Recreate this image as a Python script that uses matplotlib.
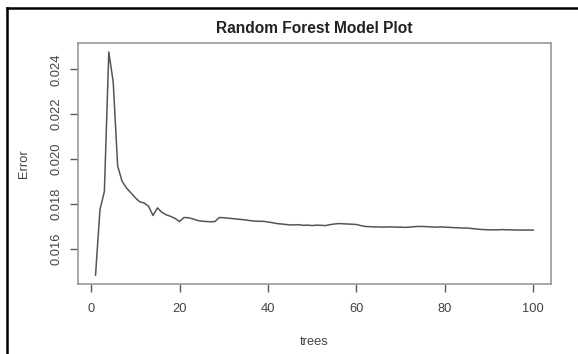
import matplotlib
matplotlib.use('Agg')
import matplotlib.pyplot as plt
from matplotlib.lines import Line2D

trees = list(range(1, 101))
error = [0.01482, 0.01774, 0.01855, 0.02478, 0.02343, 0.01969, 0.01901, 0.01871, 0.01849, 0.01827,
         0.01809, 0.01804, 0.01789, 0.01748, 0.01782, 0.01762, 0.01751, 0.01744, 0.01735, 0.01721,
         0.01739, 0.01738, 0.01733, 0.01726, 0.01723, 0.01721, 0.01720, 0.01721, 0.01739, 0.01738,
         0.01736, 0.01734, 0.01732, 0.01730, 0.01728, 0.01725, 0.01723, 0.01722, 0.01722, 0.01719,
         0.01716, 0.01712, 0.01710, 0.01708, 0.01706, 0.01706, 0.01707, 0.01704, 0.01705, 0.01703,
         0.01705, 0.01704, 0.01703, 0.01707, 0.01710, 0.01712, 0.01711, 0.01710, 0.01709, 0.01708,
         0.01703, 0.01699, 0.01698, 0.01697, 0.01697, 0.01696, 0.01697, 0.01697, 0.01696, 0.01696,
         0.01695, 0.01696, 0.01698, 0.01699, 0.01699, 0.01698, 0.01697, 0.01696, 0.01697, 0.01696,
         0.01695, 0.01694, 0.01693, 0.01692, 0.01692, 0.01690, 0.01688, 0.01686, 0.01685, 0.01684,
         0.01684, 0.01684, 0.01685, 0.01684, 0.01684, 0.01683, 0.01683, 0.01683, 0.01683, 0.01683]
xticks = [0, 20, 40, 60, 80, 100]
yticks = [0.016, 0.018, 0.020, 0.022, 0.024]

plt.rcParams['font.family'] = ['Liberation Sans', 'DejaVu Sans']
grey = '#5a5a5a'

fig = plt.figure(figsize=(5.78, 3.54), dpi=100)
ax = fig.add_axes([0.135, 0.1977, 0.8178, 0.6808])
ax.plot(trees, error, color='#555555', lw=1.1)
ax.margins(x=0.04, y=0.04)

ax.set_xticks(xticks)
ax.set_yticks(yticks)
ax.set_yticklabels(['%.3f' % v for v in yticks], rotation=90, va='center')
ax.tick_params(colors=grey, labelcolor='#444444', labelsize=9.3, length=6, width=1,
               direction='out')
ax.tick_params(axis='x', pad=8)
ax.tick_params(axis='y', pad=5)
for s in ax.spines.values():
    s.set_color('#999999')
    s.set_linewidth(1.2)

ax.set_title('Random Forest Model Plot', fontsize=11.2, fontweight='bold', color='#222222', pad=7)
ax.set_xlabel('trees', fontsize=9.3, color='#444444', labelpad=15)
ax.set_ylabel('Error', fontsize=9.3, color='#444444', labelpad=15)

# cadre de la capture (haut et gauche seulement)
fig.add_artist(Line2D([7/578, 1], [1-8/354, 1-8/354], transform=fig.transFigure, color='black', lw=1.8))
fig.add_artist(Line2D([7/578, 7/578], [0, 1-8/354], transform=fig.transFigure, color='black', lw=1.8))

fig.savefig('out.png', dpi=100)
